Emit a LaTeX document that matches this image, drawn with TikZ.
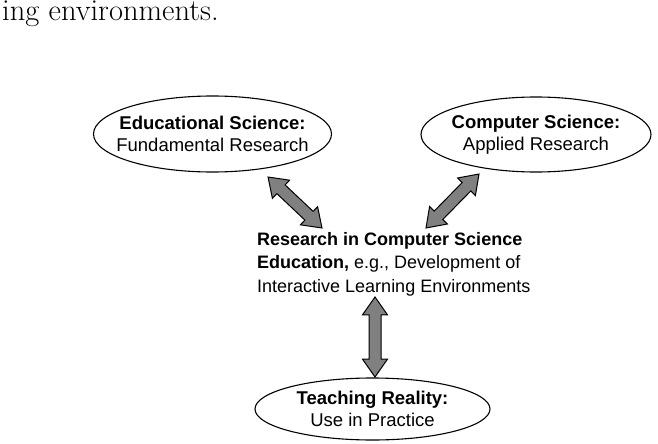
\documentclass[tikz,border=0pt]{standalone}
\usepackage{fontspec}
\newfontfamily\diagfont{Liberation Sans}
\usetikzlibrary{shapes.geometric,shapes.arrows,calc}

\begin{document}
\begin{tikzpicture}[x=1pt,y=-1pt]
\tikzset{
  field/.style={draw,ellipse,line width=1.1pt,inner xsep=-20pt,inner ysep=-6pt,minimum width=238pt,minimum height=76pt,
    align=center,font=\diagfont\fontsize{18.5}{22}\selectfont},
  blockarrow/.style={draw,fill=gray,line width=1pt,double arrow,double arrow head extend=6.5pt,
    double arrow tip angle=70,inner xsep=0pt,inner ysep=5.5pt}
}
\useasboundingbox (0,0) rectangle (658,444);

\node[anchor=base west,inner sep=0pt,font=\fontsize{30.5}{32}\selectfont] (prev) at (2,20.5) {ing environments.};

\node[field] (edu) at (212.5,134) {\textbf{Educational Science:}\\Fundamental Research};
\node[field,minimum width=230pt,minimum height=75pt] (comp) at (536,134.5) {\textbf{Computer Science:}\\Applied Research};
\node[field,minimum width=235pt,minimum height=62pt] (teach) at (372.5,409) {\textbf{Teaching Reality:}\\Use in Practice};

\node[anchor=west,inner sep=0pt,align=left,font=\diagfont\fontsize{18}{23.5}\selectfont] (res) at (257,264)
  {\textbf{Research in Computer Science}\\\textbf{Education,} e.g., Development of\\Interactive Learning Environments};

% arrow tips
\coordinate (eduT) at (268,177);
\coordinate (resL) at (322,228);
\coordinate (compT) at (479,174);
\coordinate (resR) at (426,228);
\coordinate (resB) at (375,297);
\coordinate (teachT) at (375,377);

\foreach \a/\b in {eduT/resL,compT/resR,resB/teachT}
  \path let \p1=($(\b)-(\a)$), \n1={atan2(\y1,\x1)}, \n2={veclen(\x1,\y1)} in
    node[blockarrow,minimum height=\n2,rotate=\n1] at ($(\a)!0.5!(\b)$) {};
\end{tikzpicture}
\end{document}
